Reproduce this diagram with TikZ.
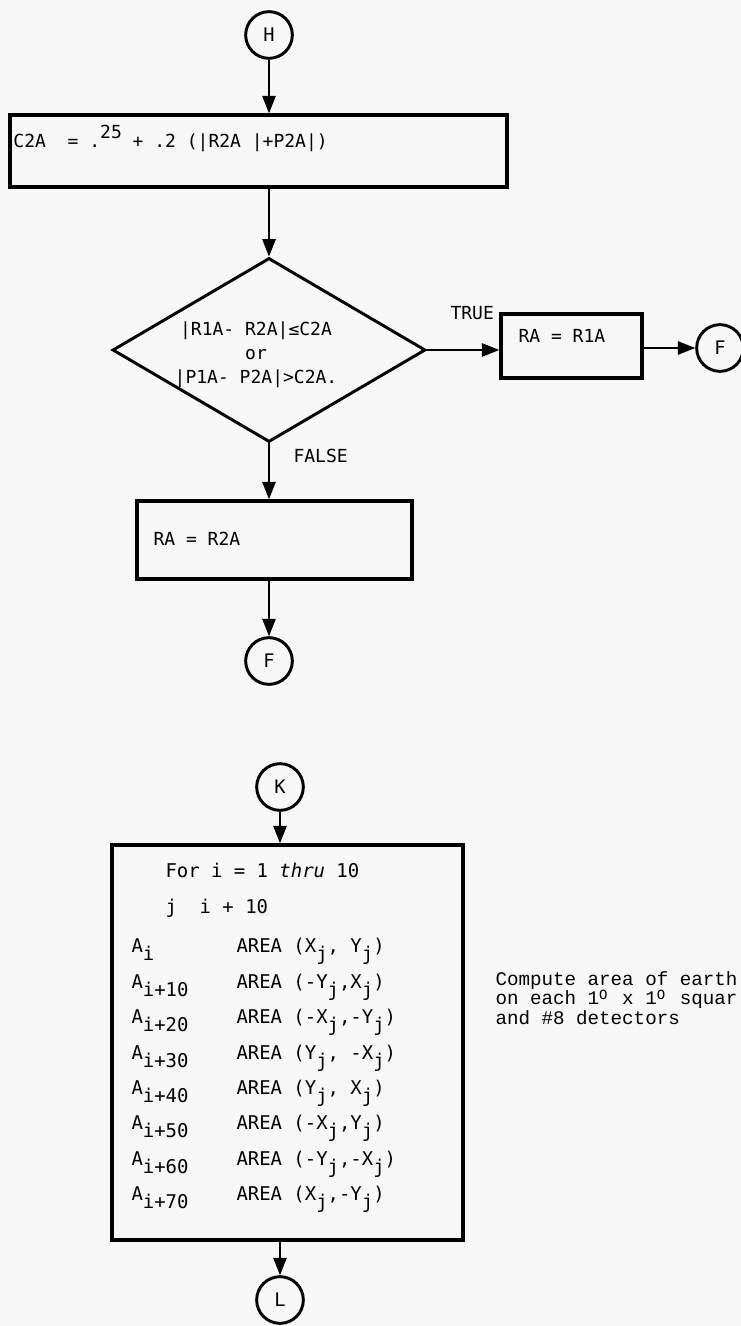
\documentclass[tikz,border=0pt]{standalone}
\usepackage{fontspec}
\setmainfont{DejaVu Sans Mono}
\newfontfamily\notefont{Liberation Mono}
\usetikzlibrary{shapes.geometric,arrows.meta}

\tikzset{every picture/.style={line width=0.75pt}}
\tikzset{
  conn/.style={draw, circle, line width=2.2pt, minimum size=35pt, inner sep=0pt, font=\fontsize{14}{14}\selectfont},
  blk/.style={draw, rectangle, line width=2.6pt, inner sep=0pt},
  dec/.style={draw, diamond, line width=2.2pt, inner sep=0pt, aspect=1.7},
  flow/.style={line width=1.1pt, -{Triangle[length=13pt,width=10pt]}},
  txt/.style={anchor=base west, inner sep=0pt, font=\fontsize{13.5}{18}\selectfont},
  rowtxt/.style={anchor=base west, inner sep=0pt, font=\fontsize{14.2}{18}\selectfont},
  note/.style={anchor=base west, inner sep=0pt, text height=8.5pt, text depth=1.5pt, font=\notefont\fontsize{14.4}{13}\selectfont},
}
\newcommand{\lowr}[1]{\raisebox{-6pt}{#1}}
\newcommand{\supO}{\makebox[0.6em][l]{\raisebox{4pt}{\fontsize{10.5}{10}\selectfont O}}}

\begin{document}
\begin{tikzpicture}[x=0.75pt,y=0.75pt,yscale=-1,xscale=1]
\useasboundingbox (0,0) rectangle (741,1326);
\fill [black!3] (0,0) rectangle (741,1326);

%Shape: Circle [H]
\node [conn] (conH) at (269,35) {H};
%Shape: Rectangle [C2A]
\node [blk, minimum width=372.75pt, minimum height=54pt] (boxC) at (258.5,151) {};
% Text Node
\node [txt] (txtC) at (13,148) {C2A~~=~.\raisebox{7pt}{25}~+~.2~(|R2A~|+P2A|)};

%Shape: Diamond [test]
\node [dec, minimum width=234.75pt, minimum height=138pt] (test) at (269,350) {};
% Text Node
\node [inner sep=0pt, align=center, font=\fontsize{13.5}{18}\selectfont] (txtTest) at (256,355) {|R1A-~R2A|≤C2A\\or\\|P1A-~P2A|>C2A.};

%Shape: Rectangle [RA = R1A]
\node [blk, minimum width=105.75pt, minimum height=48pt] (boxT) at (571.5,346) {};
% Text Node
\node [txt] (txtT) at (518,343) {RA = R1A};
%Shape: Circle [F]
\node [conn] (conFa) at (720,348) {F};

%Shape: Rectangle [RA = R2A]
\node [blk, minimum width=206.25pt, minimum height=58.5pt] (boxF) at (274.5,540) {};
% Text Node
\node [txt] (txtF) at (153,545) {RA = R2A};
%Shape: Circle [F]
\node [conn] (conFb) at (269,661) {F};

% Text Node
\node [txt] (lblTrue) at (450,320) {TRUE};
% Text Node
\node [txt] (lblFalse) at (293,462) {FALSE};

%Straight Lines
\draw [flow] (conH) -- (conH |- boxC.north);
\draw [flow] (boxC.south -| test) -- (test.north);
\draw [flow] (test.east) -- (boxT.west |- test.east);
\draw [flow] (boxT.east |- conFa) -- (conFa);
\draw [flow] (test.south) -- (test.south |- boxF.north);
\draw [flow] (boxF.south -| conFb) -- (conFb);

%Shape: Circle [K]
\node [conn] (conK) at (280,787) {K};
%Shape: Rectangle [AREA loop]
\node [blk, minimum width=263.25pt, minimum height=296.25pt] (boxA) at (287.5,1042.5) {};
%Shape: Circle [L]
\node [conn] (conL) at (280,1300) {L};

% Text Node
\node [rowtxt] (forI) at (165,877) {For i = 1 \textit{thru} 10};
% Text Node
\node [rowtxt] (setJ) at (165,913) {j~~i + 10};
% Text Node
\node [rowtxt] (rowA0) at (131,952) {A\lowr{i}};
\node [rowtxt] (rowB0) at (236,952) {AREA (X\lowr{j}, Y\lowr{j})};
\node [rowtxt] (rowA1) at (131,988) {A\lowr{i+10}};
\node [rowtxt] (rowB1) at (236,988) {AREA (-Y\lowr{j},X\lowr{j})};
\node [rowtxt] (rowA2) at (131,1023) {A\lowr{i+20}};
\node [rowtxt] (rowB2) at (236,1023) {AREA (-X\lowr{j},-Y\lowr{j})};
\node [rowtxt] (rowA3) at (131,1059) {A\lowr{i+30}};
\node [rowtxt] (rowB3) at (236,1059) {AREA (Y\lowr{j}, -X\lowr{j})};
\node [rowtxt] (rowA4) at (131,1094) {A\lowr{i+40}};
\node [rowtxt] (rowB4) at (236,1094) {AREA (Y\lowr{j}, X\lowr{j})};
\node [rowtxt] (rowA5) at (131,1129) {A\lowr{i+50}};
\node [rowtxt] (rowB5) at (236,1129) {AREA (-X\lowr{j},Y\lowr{j})};
\node [rowtxt] (rowA6) at (131,1165) {A\lowr{i+60}};
\node [rowtxt] (rowB6) at (236,1165) {AREA (-Y\lowr{j},-X\lowr{j})};
\node [rowtxt] (rowA7) at (131,1200) {A\lowr{i+70}};
\node [rowtxt] (rowB7) at (236,1200) {AREA (X\lowr{j},-Y\lowr{j})};

% Text Node
\node [note] (noteA) at (495,985) {Compute area of earth};
\node [note] (noteB) at (495,1004.5) {on each 1\supO{} x 1\supO{} squar};
\node [note] (noteC) at (495,1024) {and \#8 detectors};

%Straight Lines
\draw [flow] (conK) -- (conK |- boxA.north);
\draw [flow] (boxA.south -| conL) -- (conL);

\end{tikzpicture}
\end{document}
